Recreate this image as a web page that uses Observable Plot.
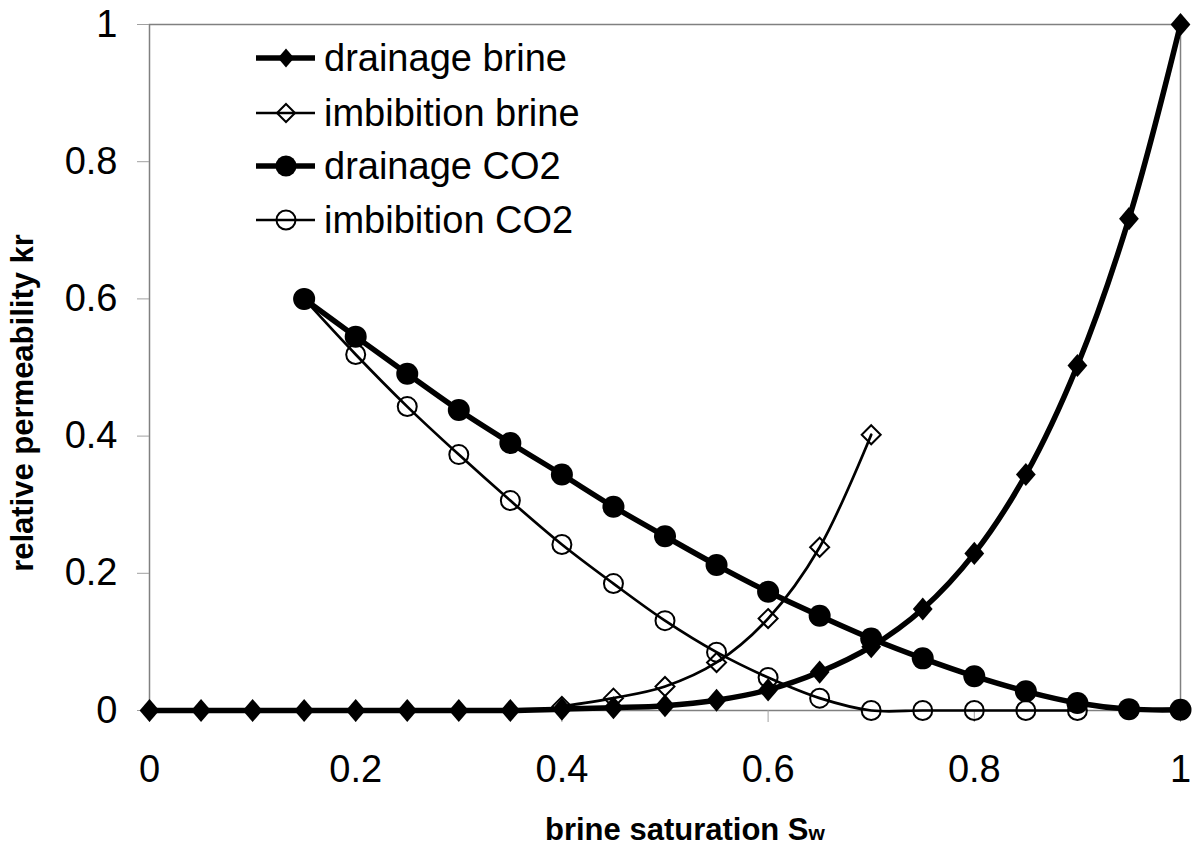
<!DOCTYPE html>
<html><head><meta charset="utf-8">
<script src="https://cdn.jsdelivr.net/npm/d3@7"></script>
<script src="https://cdn.jsdelivr.net/npm/@observablehq/plot@0.6"></script>
<style>body{margin:0;background:#fff;}</style>
</head><body><div id="chart"></div>
<script>
// ---- data ----
const swDrainageBrine = [0,0.05,0.1,0.15,0.2,0.25,0.3,0.35,0.4,0.45,0.5,0.55,0.6,0.65,0.7,0.75,0.8,0.85,0.9,0.95,1.0];
const krDrainageBrine = [0,0,0,0,0,0,0,0,0.002,0.004,0.007,0.015,0.03,0.056,0.093,0.148,0.229,0.344,0.503,0.717,1.0];

const swImbibitionBrine = [0.4,0.45,0.5,0.55,0.6,0.65,0.7];
const krImbibitionBrine = [0.006,0.018,0.035,0.07,0.134,0.238,0.402];

const swDrainageCO2 = [0.15,0.2,0.25,0.3,0.35,0.4,0.45,0.5,0.55,0.6,0.65,0.7,0.75,0.8,0.85,0.9,0.95,1.0];
const krDrainageCO2 = [0.6,0.545,0.491,0.438,0.39,0.344,0.297,0.254,0.212,0.173,0.138,0.105,0.076,0.05,0.028,0.011,0.002,0.001];

const swImbibitionCO2 = [0.15,0.2,0.25,0.3,0.35,0.4,0.45,0.5,0.55,0.6,0.65,0.7,0.75,0.8,0.85,0.9];
const krImbibitionCO2 = [0.6,0.519,0.443,0.373,0.306,0.242,0.185,0.131,0.085,0.048,0.018,0,0,0,0,0];

const seriesNames = ["drainage brine","imbibition brine","drainage CO2","imbibition CO2"];
const xTicks = [0,0.2,0.4,0.6,0.8,1];
const xTickLabels = ["0","0.2","0.4","0.6","0.8","1"];
const yTicks = [0,0.2,0.4,0.6,0.8,1];
const yTickLabels = ["0","0.2","0.4","0.6","0.8","1"];
const xTitle = "brine saturation S";
const xTitleSub = "w";
const yTitle = "relative permeability kr";

const toRows = (xs, ys) => xs.map((x, i) => ({sw: x, kr: ys[i]}));
const dBrine = toRows(swDrainageBrine, krDrainageBrine);
const iBrine = toRows(swImbibitionBrine, krImbibitionBrine);
const dCO2 = toRows(swDrainageCO2, krDrainageCO2);
const iCO2 = toRows(swImbibitionCO2, krImbibitionCO2);

// custom diamond symbols
const diamondTall = {draw(ctx, size){ const r = Math.sqrt(size/Math.PI); const w = r*0.9, h = r*1.05;
  ctx.moveTo(0,-h); ctx.lineTo(w,0); ctx.lineTo(0,h); ctx.lineTo(-w,0); ctx.closePath(); }};
const diamondSq = {draw(ctx, size){ const r = Math.sqrt(size/Math.PI); const w = r*0.95, h = r*0.95;
  ctx.moveTo(0,-h); ctx.lineTo(w,0); ctx.lineTo(0,h); ctx.lineTo(-w,0); ctx.closePath(); }};

const font = "'Liberation Sans', Arial, Helvetica, sans-serif";
const fmt = (labels, ticks) => d => { const i = ticks.indexOf(d); return i >= 0 ? labels[i] : String(d); };

const chart = Plot.plot({
  width: 1192, height: 852,
  marginLeft: 149, marginRight: 12, marginTop: 24, marginBottom: 142,
  style: {fontFamily: font, background: "white", color: "black"},
  x: {domain: [0, 1], label: null},
  y: {domain: [0, 1], label: null},
  marks: [
    Plot.frame({stroke: "#808080", strokeWidth: 1.5}),
    Plot.axisX(xTicks, {tickSize: 12, tickPadding: 33, stroke: "#a0a0a0", fill: "black", fontSize: 38, tickFormat: fmt(xTickLabels, xTicks), label: null}),
    Plot.axisY(yTicks, {tickSize: 12, tickPadding: 20, stroke: "#a0a0a0", fill: "black", fontSize: 38, tickFormat: fmt(yTickLabels, yTicks), label: null}),
    // imbibition brine
    Plot.line(iBrine, {x: "sw", y: "kr", curve: "catmull-rom", stroke: "black", strokeWidth: 2.7}),
    Plot.dot(iBrine, {x: "sw", y: "kr", r: 10, symbol: diamondSq, fill: "none", stroke: "black", strokeWidth: 2}),
    // imbibition CO2
    Plot.line(iCO2, {x: "sw", y: "kr", curve: "catmull-rom", stroke: "black", strokeWidth: 2.7}),
    Plot.dot(iCO2, {x: "sw", y: "kr", r: 9.5, fill: "none", stroke: "black", strokeWidth: 2}),
    // drainage CO2
    Plot.line(dCO2, {x: "sw", y: "kr", curve: "catmull-rom", stroke: "black", strokeWidth: 5.5}),
    Plot.dot(dCO2, {x: "sw", y: "kr", r: 11, fill: "black", stroke: "none"}),
    // drainage brine
    Plot.line(dBrine, {x: "sw", y: "kr", curve: "catmull-rom", stroke: "black", strokeWidth: 5.5}),
    Plot.dot(dBrine, {x: "sw", y: "kr", r: 11, symbol: diamondTall, fill: "black", stroke: "none"})
  ]
});
document.getElementById("chart").appendChild(chart);

const svg = d3.select(chart);
// legend
const legendRows = [58, 113, 166, 220];
const legendStyle = [
  {sym: diamondTall, size: Math.PI*9*9, fill: "black", stroke: "none", lw: 5.5},
  {sym: diamondSq, size: Math.PI*9.5*9.5, fill: "none", stroke: "black", lw: 2.7},
  {sym: d3.symbolCircle, size: Math.PI*10.5*10.5, fill: "black", stroke: "none", lw: 5.5},
  {sym: d3.symbolCircle, size: Math.PI*9.5*9.5, fill: "none", stroke: "black", lw: 2.7}
];
const lg = svg.append("g");
seriesNames.forEach((name, i) => {
  const y = legendRows[i], s = legendStyle[i];
  lg.append("line").attr("x1", 256).attr("x2", 315).attr("y1", y).attr("y2", y)
    .attr("stroke", "black").attr("stroke-width", s.lw);
  lg.append("path").attr("d", d3.symbol(s.sym, s.size)()).attr("transform", `translate(286,${y})`)
    .attr("fill", s.fill).attr("stroke", s.stroke).attr("stroke-width", 2);
  lg.append("text").attr("x", 324).attr("y", y + 13).attr("font-size", 38).attr("font-family", font)
    .attr("text-anchor", "start").attr("fill", "black").text(name);
});
// axis titles
const xt = svg.append("text").attr("x", 545).attr("y", 840).attr("font-size", 31).attr("font-weight", "bold")
  .attr("text-anchor", "start").attr("font-family", font).attr("fill", "black");
xt.append("tspan").text(xTitle);
xt.append("tspan").attr("font-size", 21).text(xTitleSub);
svg.append("text").attr("transform", "translate(33,403) rotate(-90)").attr("text-anchor", "middle")
  .attr("font-size", 31).attr("font-weight", "bold").attr("font-family", font).attr("fill", "black").text(yTitle);
</script>
</body></html>
